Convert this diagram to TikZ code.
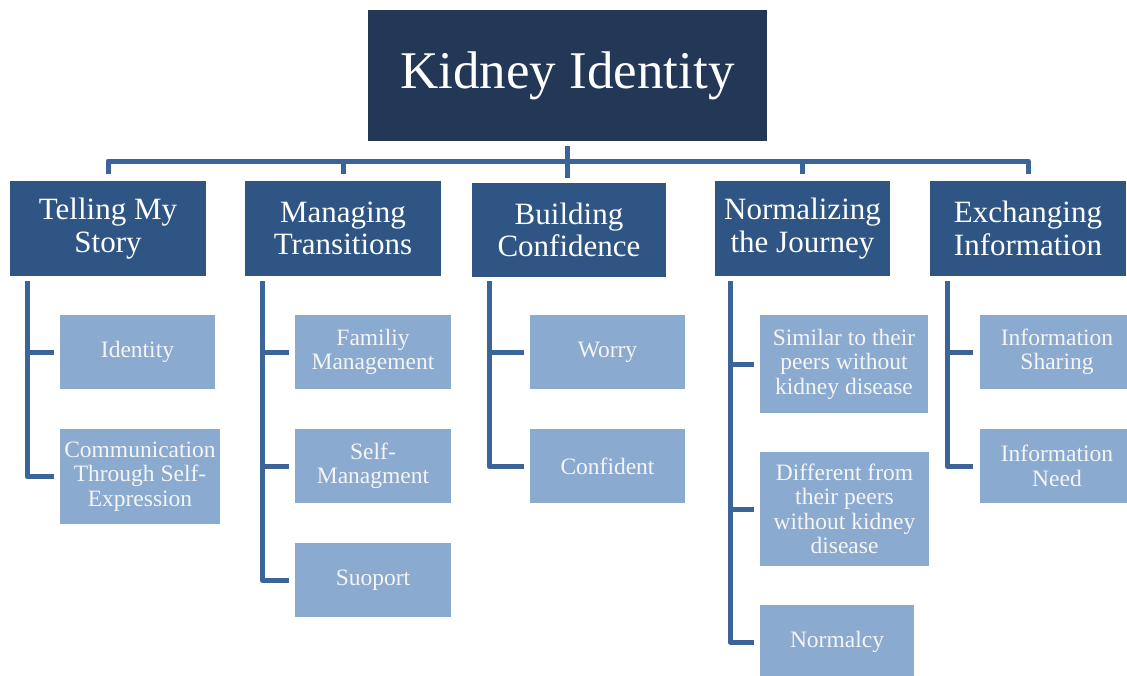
\documentclass[tikz,border=0pt]{standalone}
\usepackage{fontspec}
\setmainfont{Liberation Serif}
\definecolor{rootc}{HTML}{233757}
\definecolor{topicc}{HTML}{2E5583}
\definecolor{subc}{HTML}{8AAACF}
\definecolor{linec}{HTML}{3B6598}
\begin{document}
\begin{tikzpicture}[x=1pt,y=-1pt,
  rootbox/.style={fill=rootc,text=white,inner sep=0pt,align=center,
    font=\fontsize{53}{58}\selectfont},
  topicbox/.style={fill=topicc,text=white,inner sep=0pt,align=center,
    minimum height=95pt,font=\fontsize{31}{32.5}\selectfont},
  subbox/.style={fill=subc,text=white!96!black,inner sep=0pt,align=center,
    font=\fontsize{23.5}{24.5}\selectfont},
  conn/.style={draw=linec,line width=5pt,line join=round}]
\useasboundingbox (0,0) rectangle (1127,675);

% root
\node[rootbox,minimum width=399pt,minimum height=131pt] (root) at (567.5,75.5) {Kidney Identity};

% themes
\node[topicbox,minimum width=196pt] (tell)  at (108,228.5)  {Telling My\\Story};
\node[topicbox,minimum width=196pt] (man)   at (343,228.5)  {Managing\\Transitions};
\node[topicbox,minimum width=194pt,minimum height=94pt] (build) at (569,230) {Building\\Confidence};
\node[topicbox,minimum width=175pt] (norm)  at (802.5,228.5) {Normalizing\\the Journey};
\node[topicbox,minimum width=196pt] (exch)  at (1028,228.5) {Exchanging\\Information};

% sub-themes
\node[subbox,minimum width=155pt,minimum height=74pt] (ident) at (137.5,352) {Identity};
\node[subbox,minimum width=160pt,minimum height=95pt] (comm)  at (140,476.5) {Communication\\Through Self-\\Expression};

\node[subbox,minimum width=156pt,minimum height=74pt] (fam)   at (373,352) {Familiy\\Management};
\node[subbox,minimum width=156pt,minimum height=74pt] (selfm) at (373,466) {Self-\\Managment};
\node[subbox,minimum width=156pt,minimum height=74pt] (supp)  at (373,580) {Suoport};

\node[subbox,minimum width=155pt,minimum height=74pt] (worry) at (607.5,352) {Worry};
\node[subbox,minimum width=155pt,minimum height=74pt] (conf)  at (607.5,466) {Confident};

\node[subbox,minimum width=168pt,minimum height=98pt]  (sim)    at (844,364) {Similar to their\\peers without\\kidney disease};
\node[subbox,minimum width=169pt,minimum height=114pt] (diff)   at (844.5,509) {Different from\\their peers\\without kidney\\disease};
\node[subbox,minimum width=154pt,minimum height=74pt]  (normal) at (837,642) {Normalcy};

\node[subbox,minimum width=155pt,minimum height=74pt] (infos) at (1057,352) {Information\\Sharing};
\node[subbox,minimum width=155pt,minimum height=74pt] (infon) at (1057,466) {Information\\Need};

% top bar and drops to each theme
\coordinate (barL) at (108,161);
\coordinate (barR) at (1028,161);
\draw[conn] ([yshift=7pt]tell.north) -- (barL) -- (barR) -- ([yshift=7pt]exch.north);
\draw[conn] ([yshift=7pt]man.north) -- (man.north |- barL);
\draw[conn] ([yshift=7pt]norm.north) -- (norm.north |- barL);
\coordinate (stemB) at (567.5,178);
\draw[conn] ([yshift=-5pt]root.south) -- (stemB);

% spines under each theme
\coordinate (t0) at (27,281);
\draw[conn] (t0) |- ([xshift=-6pt]comm.west);
\draw[conn] (t0 |- ident.west) -- ([xshift=-6pt]ident.west);

\coordinate (m0) at (262,281);
\draw[conn] (m0) |- ([xshift=-6pt]supp.west);
\draw[conn] (m0 |- fam.west) -- ([xshift=-6pt]fam.west);
\draw[conn] (m0 |- selfm.west) -- ([xshift=-6pt]selfm.west);

\coordinate (b0) at (489,281);
\draw[conn] (b0) |- ([xshift=-6pt]conf.west);
\draw[conn] (b0 |- worry.west) -- ([xshift=-6pt]worry.west);

\coordinate (n0) at (730,281);
\draw[conn] (n0) |- ([xshift=-6pt]normal.west);
\draw[conn] (n0 |- sim.west) -- ([xshift=-6pt]sim.west);
\draw[conn] (n0 |- diff.west) -- ([xshift=-6pt]diff.west);

\coordinate (e0) at (947,281);
\draw[conn] (e0) |- ([xshift=-6pt]infon.west);
\draw[conn] (e0 |- infos.west) -- ([xshift=-6pt]infos.west);
\end{tikzpicture}
\end{document}
